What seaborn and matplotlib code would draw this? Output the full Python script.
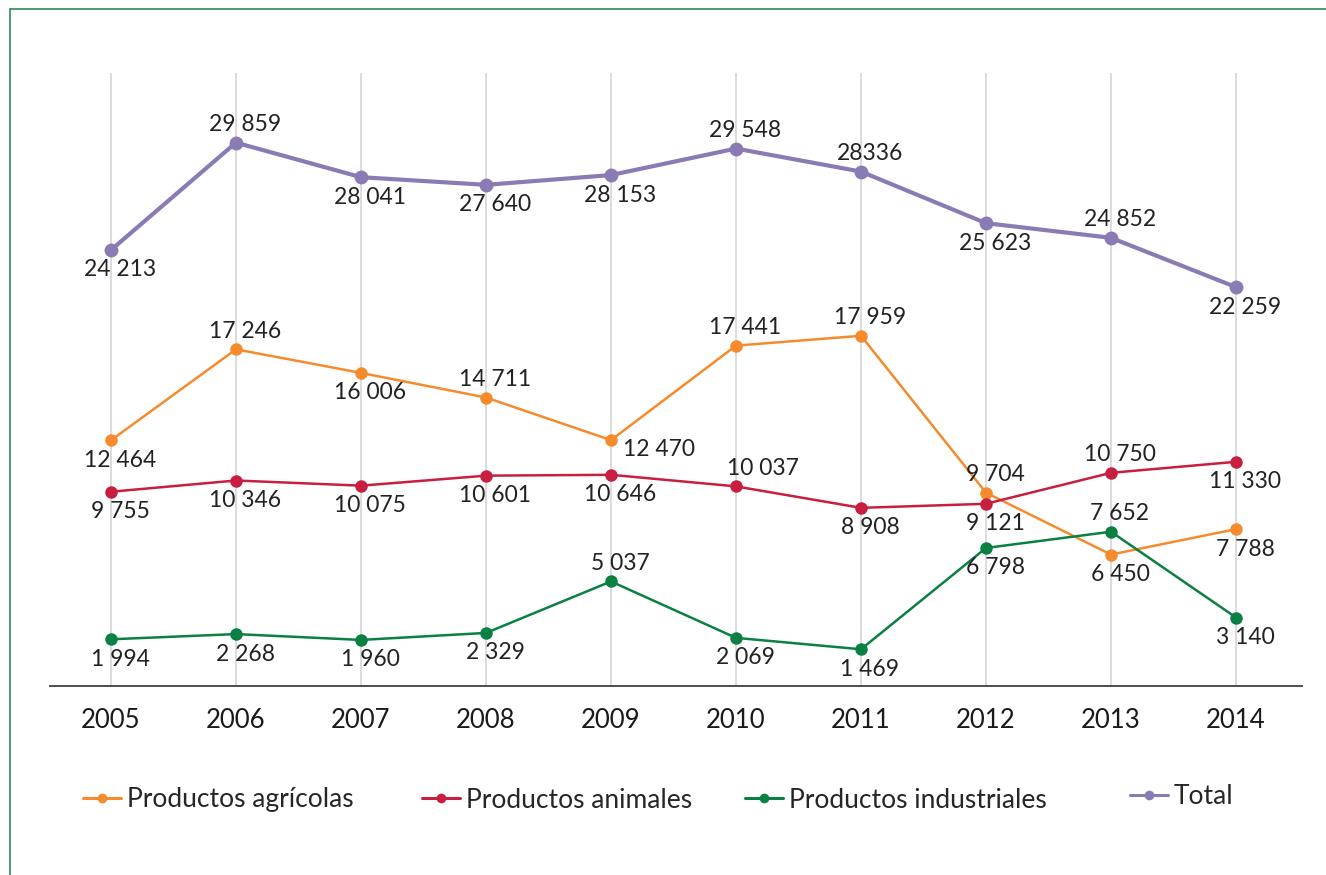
import matplotlib
matplotlib.use("Agg")
import matplotlib.pyplot as plt
from matplotlib.lines import Line2D
import seaborn as sns

# datos (millones de pesos)
anios = [2005, 2006, 2007, 2008, 2009, 2010, 2011, 2012, 2013, 2014]
agricolas = [12464, 17246, 16006, 14711, 12470, 17441, 17959, 9704, 6450, 7788]
animales = [9755, 10346, 10075, 10601, 10646, 10037, 8908, 9121, 10750, 11330]
industriales = [1994, 2268, 1960, 2329, 5037, 2069, 1469, 6798, 7652, 3140]
total = [24213, 29859, 28041, 27640, 28153, 29548, 28336, 25623, 24852, 22259]
etiquetas_total = ["24 213", "29 859", "28 041", "27 640", "28 153",
                   "29 548", "28336", "25 623", "24 852", "22 259"]

# posicion de las etiquetas: a = arriba, b = abajo, d = derecha, ad = arriba-derecha
pos_agricolas = ["b", "a", "b", "a", "d", "a", "a", "a", "b", "b"]
pos_animales = ["b", "b", "b", "b", "b", "ad", "b", "b", "a", "b"]
pos_industriales = ["b", "b", "b", "b", "a", "b", "b", "b", "a", "b"]
pos_total = ["b", "a", "b", "b", "b", "a", "a", "b", "a", "b"]
desplazamientos = {"a": (9, 18), "b": (9, -20), "d": (48, -9), "ad": (27, 18)}

colores = {
    "Productos agrícolas": "#F68B2D",
    "Productos animales": "#C81E40",
    "Productos industriales": "#0B8043",
    "Total": "#8B7BB5",
}
# x (px) del inicio de cada elemento de la leyenda
leyenda_x = [83, 422, 745, 1130]
leyenda_y = [800, 800, 800, 797]


def fmt(v):
    return f"{v:,}".replace(",", " ")


sns.set_theme(style="white")
plt.rcParams["font.family"] = ["Lato", "DejaVu Sans"]

fig = plt.figure(figsize=(13.26, 8.75), dpi=100)
ax = fig.add_axes([50 / 1326, 1 - 686 / 875, 1252 / 1326, 613 / 875])
ax2 = ax.twinx()

series = [
    ("Productos agrícolas", agricolas, pos_agricolas, None, ax),
    ("Productos animales", animales, pos_animales, None, ax),
    ("Productos industriales", industriales, pos_industriales, None, ax),
    ("Total", total, pos_total, etiquetas_total, ax2),
]

for nombre, valores, posiciones, textos, eje in series:
    grueso = nombre == "Total"
    sns.lineplot(x=anios, y=valores, ax=eje, color=colores[nombre], marker="o",
                 markersize=10 if grueso else 9, markeredgewidth=0,
                 linewidth=3 if grueso else 1.8, label=nombre, legend=False)
    for i, (x, v) in enumerate(zip(anios, valores)):
        txt = textos[i] if textos else fmt(v)
        eje.annotate(txt, (x, v), xytext=desplazamientos[posiciones[i]],
                     textcoords="offset pixels", ha="center", va="center",
                     fontsize=16.5, color="#222222")

ax.set_xlim(2004.512, 2014.528)
ax.set_ylim(-463, 31781)
ax2.set_ylim(1278, 33522)

ax.set_xticks(anios)
ax.set_xticklabels([str(a) for a in anios], fontsize=18.5, color="#1a1a1a")
ax.tick_params(axis="x", length=0, pad=16)
ax.set_yticks([])
ax2.set_yticks([])
ax.set_xlabel("")
ax.set_ylabel("")
ax2.set_ylabel("")
ax.set_axisbelow(True)
ax.grid(axis="x", color="#d9d9d9", linewidth=1.3)
ax.grid(axis="y", visible=False)
ax2.grid(False)
for e in (ax, ax2):
    for lado in ("top", "left", "right", "bottom"):
        e.spines[lado].set_visible(False)
ax.spines["bottom"].set_visible(True)
ax.spines["bottom"].set_color("#404040")
ax.spines["bottom"].set_linewidth(1.3)

# leyenda: un elemento por posicion
for (nombre, color), lx, ly in zip(colores.items(), leyenda_x, leyenda_y):
    h = Line2D([], [], color=color, marker="o", markersize=7,
               markeredgewidth=0, linewidth=2.2)
    fig.legend([h], [nombre], loc="center left",
               bbox_to_anchor=(lx / 1326, 1 - ly / 875), frameon=False,
               fontsize=19, handlelength=1.44, handletextpad=0.23,
               borderpad=0, borderaxespad=0)

# marco verde
marco = "#2E8B57"
fig.add_artist(Line2D([10 / 1326, 1], [1 - 9 / 875, 1 - 9 / 875],
                      transform=fig.transFigure, color=marco, linewidth=1.2))
fig.add_artist(Line2D([10 / 1326, 10 / 1326], [0, 1 - 9 / 875],
                      transform=fig.transFigure, color=marco, linewidth=1.2))

fig.savefig("out.png", dpi=100)
